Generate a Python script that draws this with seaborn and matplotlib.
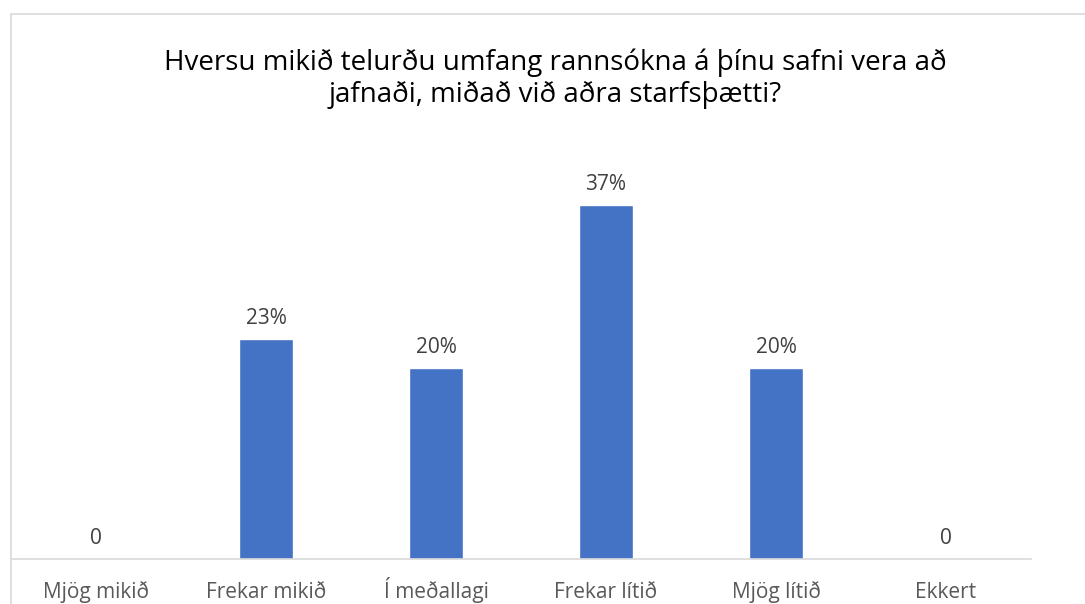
import matplotlib
matplotlib.use("Agg")
import matplotlib.pyplot as plt
import seaborn as sns
import pandas as pd
from matplotlib.patches import Rectangle

# Gogn ur myndinni
categories = ["Mjög mikið", "Frekar mikið", "Í meðallagi", "Frekar lítið", "Mjög lítið", "Ekkert"]
values = [0, 23, 20, 37, 20, 0]
title = "Hversu mikið telurðu umfang rannsókna á þínu safni vera að\njafnaði, miðað við aðra starfsþætti?"

sns.set_theme(style="white")
plt.rcParams['font.family'] = ['Open Sans', 'DejaVu Sans']

W, H = 1085, 604
fig = plt.figure(figsize=(W / 100, H / 100), dpi=100)
ax = fig.add_axes([11 / W, (H - 559) / H, 1020 / W, (559 - 176) / H])

df = pd.DataFrame({"flokkur": categories, "gildi": values})
sns.barplot(data=df, x="flokkur", y="gildi", color="#4472C4", saturation=1,
            width=0.32, ax=ax)

ax.set_ylim(0, 40)
ax.set_xlim(-0.5, len(categories) - 0.5)
ax.set_yticks([])
ax.set_xlabel("")
ax.set_ylabel("")
for side in ["top", "right", "left"]:
    ax.spines[side].set_visible(False)
ax.spines["bottom"].set_color("#D9D9D9")
ax.spines["bottom"].set_linewidth(1.2)
ax.tick_params(axis="x", length=0, pad=28, labelsize=15, labelcolor="#595959")
for lbl in ax.get_xticklabels():
    lbl.set_va("baseline")

for i, v in enumerate(values):
    txt = f"{v}%" if v else "0"
    ax.text(i, v + 1.0, txt, ha="center", va="bottom", fontsize=15, color="#404040")

fig.text(555 / W, 1 - 79 / H, title, ha="center", va="center", fontsize=20,
         color="#000000", linespacing=1.2)

# ramminn um myndina
fig.patches.append(Rectangle((11 / W, -0.1), 1.2, 1 - 14 / H + 0.1, transform=fig.transFigure,
                             fill=False, edgecolor="#D9D9D9", linewidth=1.2))

fig.savefig("out.png", dpi=100)
